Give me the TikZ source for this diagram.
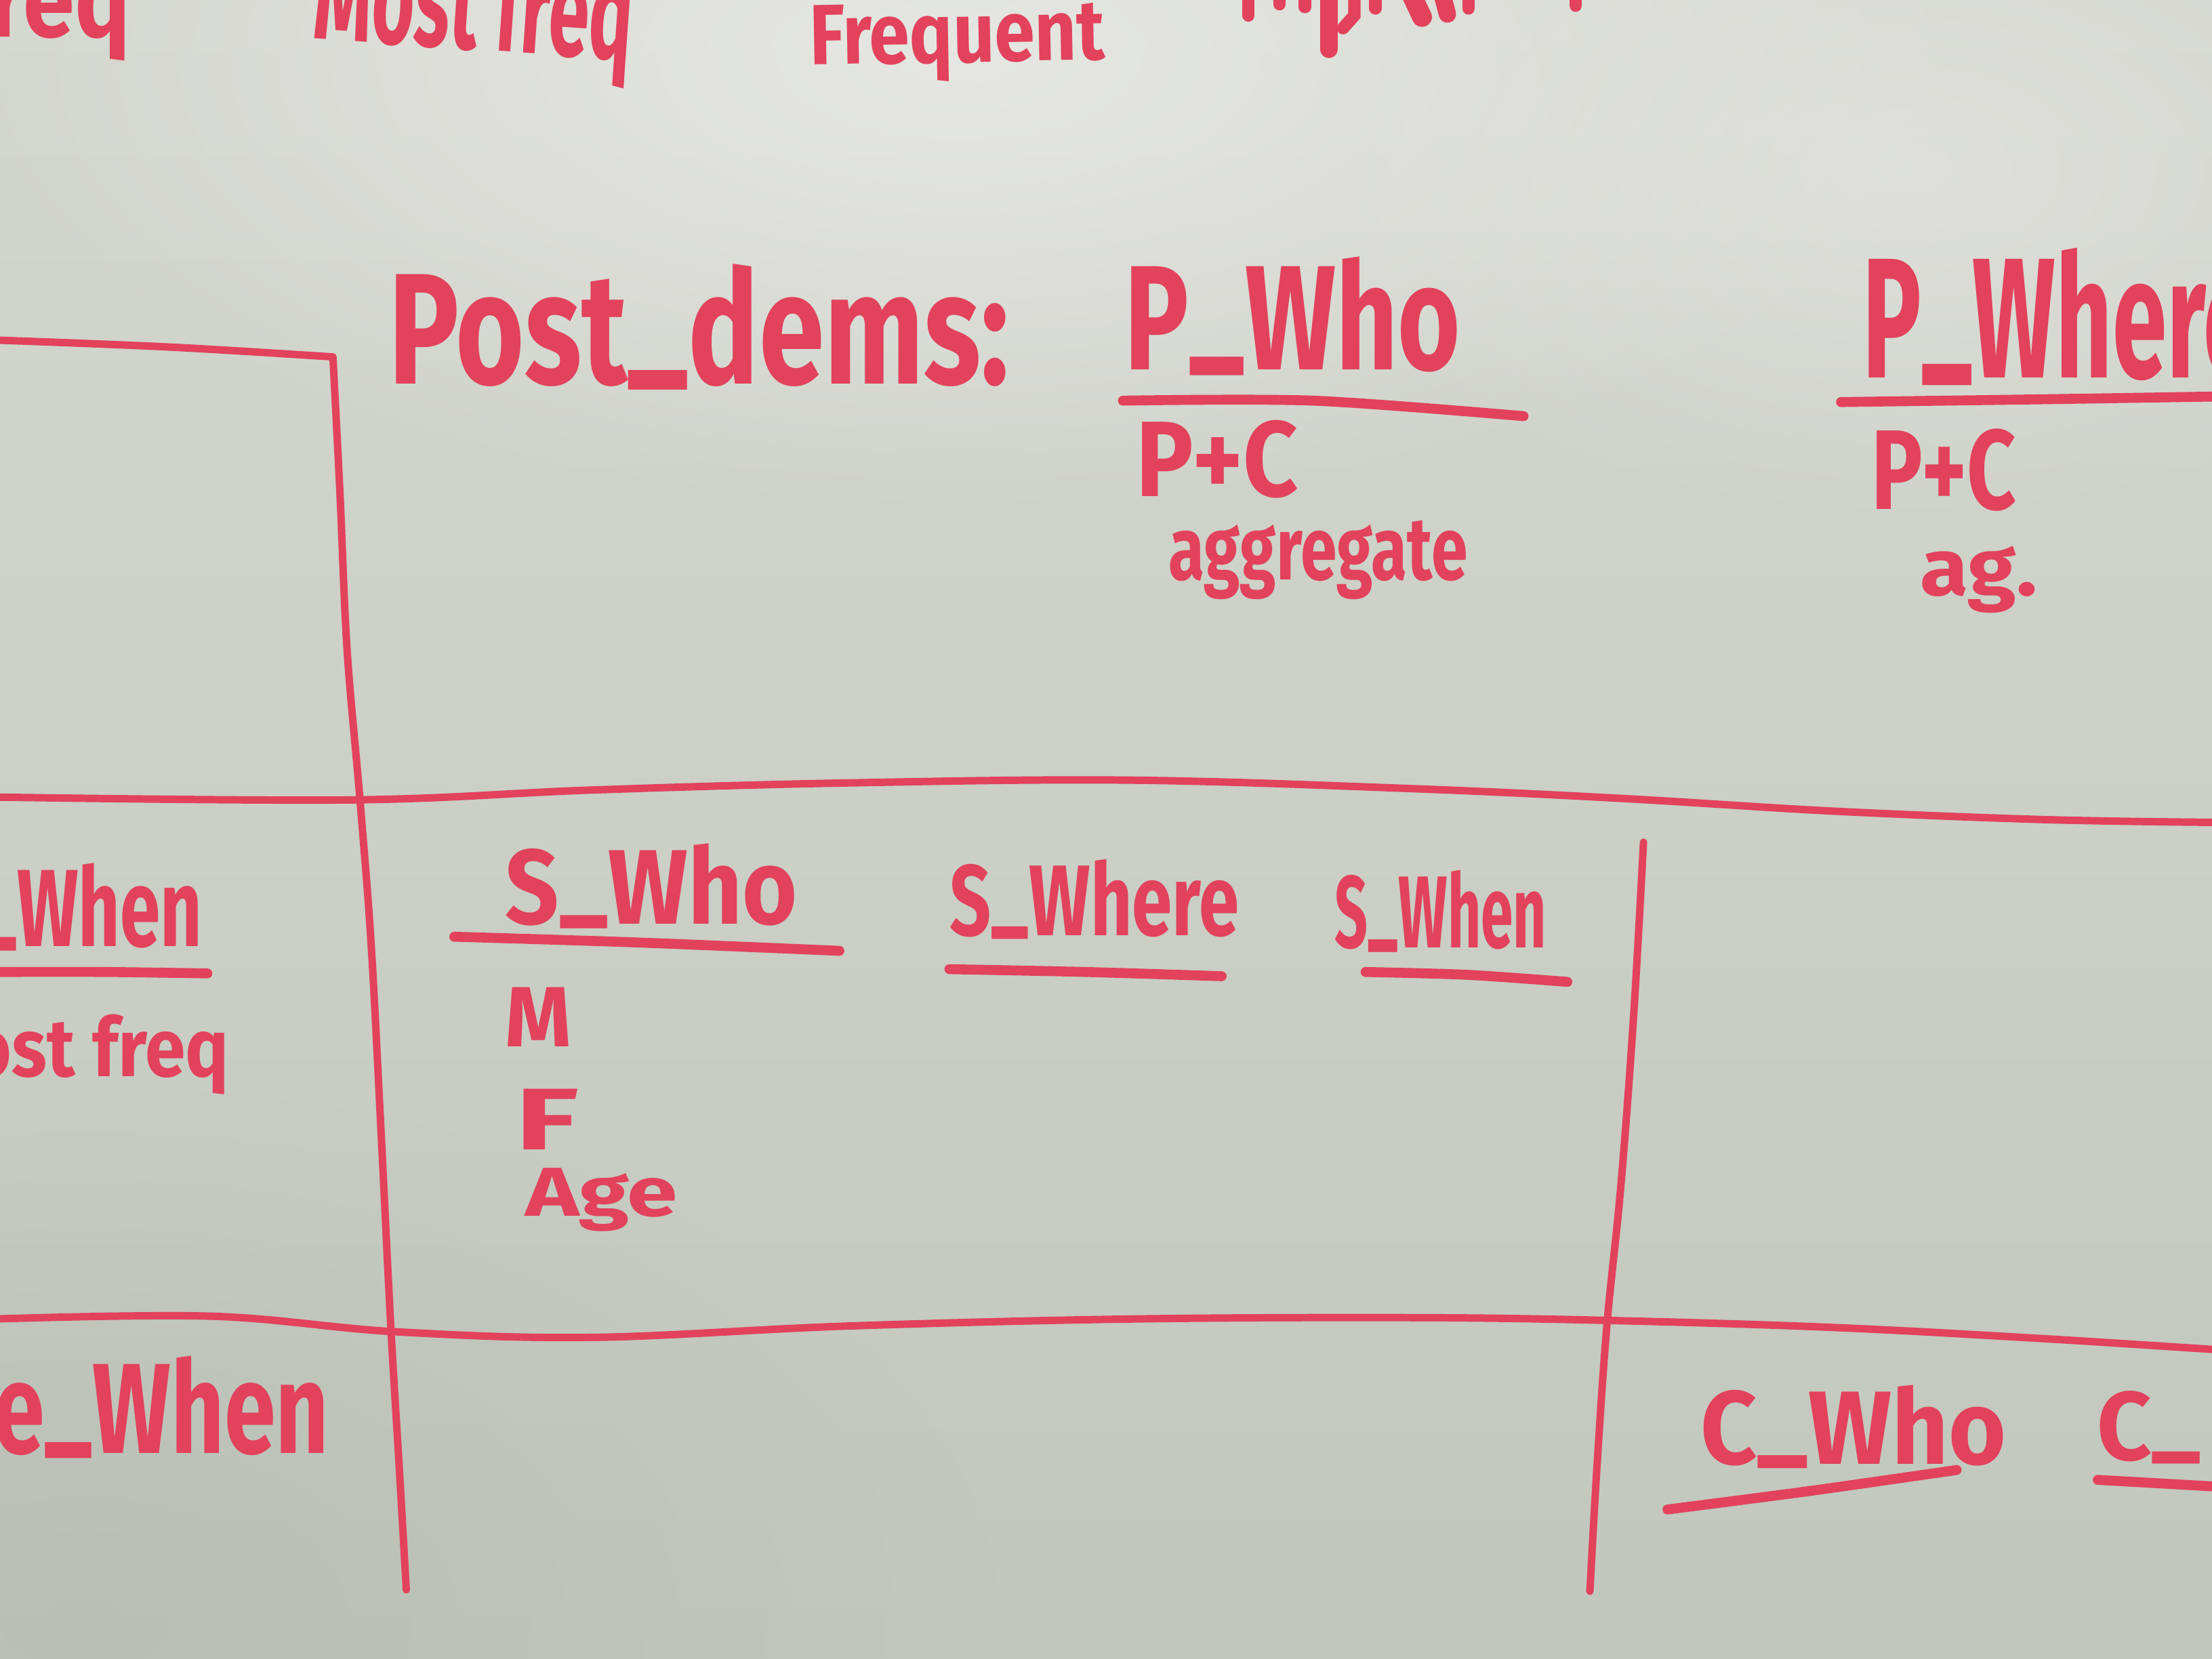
\documentclass[tikz,border=0pt]{standalone}
\usepackage{fontspec}
\usepackage{graphicx}
\usetikzlibrary{fadings}
\newfontfamily\markerfont{Fira Sans}
\definecolor{boardtop}{RGB}{212,215,206}
\definecolor{boardbottom}{RGB}{194,199,189}
\definecolor{boardlight}{RGB}{230,231,226}
\definecolor{boarddark}{RGB}{183,188,178}
\definecolor{ink}{RGB}{226,66,92}
\tikzfading[name=glow, inner color=transparent!0, outer color=transparent!100]
\newlength\pxu \setlength\pxu{0.02cm}
% handwritten word: width, height above baseline, text
\newcommand{\hw}[3]{\resizebox{#1\pxu}{#2\pxu}{\markerfont\bfseries #3}}
% underscore drawn at the baseline, as written by hand
\newcommand{\us}{\raisebox{0.13em}{\_}}

\begin{document}
\begin{tikzpicture}[x=0.02cm,y=-0.02cm,
  txt/.style={inner sep=0pt, anchor=base west, text=ink},
  gridline/.style={draw=ink, line width=3pt, line cap=round, line join=round},
  underline/.style={draw=ink, line width=4pt, line cap=round, line join=round},
  speck/.style={draw=ink, line width=5pt, line cap=round}]
\useasboundingbox (0,0) rectangle (1568,1176);
\clip (0,0) rectangle (1568,1176);

% whiteboard surface with glare
\shade[top color=boardtop, bottom color=boardbottom] (0,0) rectangle (1568,1176);
\fill[boardlight, path fading=glow] (680,40) ellipse (720 and 330);
\fill[boardlight, opacity=0.6, path fading=glow] (1350,120) ellipse (450 and 260);
\fill[boarddark, opacity=0.7, path fading=glow] (60,1150) ellipse (650 and 380);

% table grid
\draw[gridline] plot[smooth, tension=0.6] coordinates {(-5,241) (120,246) (236,253)};
\draw[gridline] plot[smooth, tension=0.6] coordinates {(236,253) (241,350) (246,460) (255,565) (263,668) (270,800) (277,940) (283,1040) (288,1127)};
\draw[gridline] plot[smooth, tension=0.6] coordinates {(-5,565) (250,567) (420,560) (600,555) (800,553) (1000,559) (1150,566) (1300,575) (1450,581) (1575,583)};
\draw[gridline] plot[smooth, tension=0.6] coordinates {(-5,935) (150,933) (280,944) (420,948) (600,940) (800,935) (1000,934) (1140,936) (1300,941) (1450,949) (1575,957)};
\draw[gridline] plot[smooth, tension=0.6] coordinates {(1165,597) (1158,720) (1149,840) (1139,940) (1132,1040) (1127,1128)};

% underlines
\draw[underline] plot[smooth] coordinates {(796,284) (931,284) (1080,295)};
\draw[underline] plot[smooth] coordinates {(1305,285) (1450,283) (1575,281)};
\draw[underline] plot[smooth] coordinates {(322,664) (450,668) (595,674)};
\draw[underline] plot[smooth] coordinates {(673,687) (770,689) (866,692)};
\draw[underline] plot[smooth] coordinates {(968,689) (1040,691) (1111,696)};
\draw[underline] plot[smooth] coordinates {(-5,689) (75,689) (147,690)};
\draw[underline] plot[smooth] coordinates {(1182,1070) (1282,1057) (1387,1042)};
\draw[underline] plot[smooth] coordinates {(1487,1049) (1575,1054)};

% top row, cut by the edge
\node[txt] (reqA) at (-8,26) {\hw{100}{42}{req}};
\node[txt, rotate=-4] (mostfreq) at (221,27) {\hw{226}{70}{Most freq}};
\node[txt, rotate=1] (frequent) at (574,46) {\hw{209}{42}{Frequent}};
\draw[speck] (885,-5) -- (885,11);
\draw[speck] (907,-5) -- (907,3);
\draw[speck] (925,-5) -- (925,5);
\draw[speck, line width=7pt] (942,-5) -- (942,35);
\draw[speck] (960,-5) -- (960,11) -- (952,20);
\draw[speck] (975,-5) -- (975,6);
\draw[speck, line width=8pt] (1000,-5) -- (1008,12);
\draw[speck, line width=7pt] (1022,-5) -- (1026,10);
\draw[speck] (1041,-5) -- (1041,6);
\draw[speck] (1117,-5) -- (1117,4);

% first row
\node[txt] (post) at (275,272) {\hw{440}{85}{Post\us dems:}};
\node[txt] (pwho) at (797,262) {\hw{238}{80}{P\us Who}};
\node[txt] (pcA) at (805,352) {\hw{115}{54}{P+C}};
\node[txt] (aggr) at (828,411) {\hw{212}{42}{aggregate}};
\node[txt] (pwhere) at (1320,268) {\hw{280}{92}{P\us Where}};
\node[txt] (pcB) at (1326,361) {\hw{103}{57}{P+C}};
\node[txt] (agB) at (1361,422) {\hw{83}{35}{ag.}};

% second row
\node[txt] (whenA) at (-15,671) {\hw{158}{59}{\us When}};
\node[txt] (freqA) at (-22,763) {\hw{184}{44}{ost freq}};
\node[txt] (swho) at (358,655) {\hw{207}{57}{S\us Who}};
\node[txt] (mval) at (358,742) {\hw{47}{42}{M}};
\node[txt] (fval) at (365,815) {\hw{45}{43}{F}};
\node[txt] (age) at (372,862) {\hw{108}{34}{Age}};
\node[txt] (swhere) at (673,663) {\hw{205}{54}{S\us Where}};
\node[txt] (swhen) at (946,672) {\hw{150}{55}{S\us When}};

% third row
\node[txt] (whenB) at (-5,1030) {\hw{238}{69}{e\us When}};
\node[txt] (cwho) at (1205,1038) {\hw{217}{56}{C\us Who}};
\node[txt] (cB) at (1486,1035) {\hw{74}{49}{C\us}};
\end{tikzpicture}
\end{document}
